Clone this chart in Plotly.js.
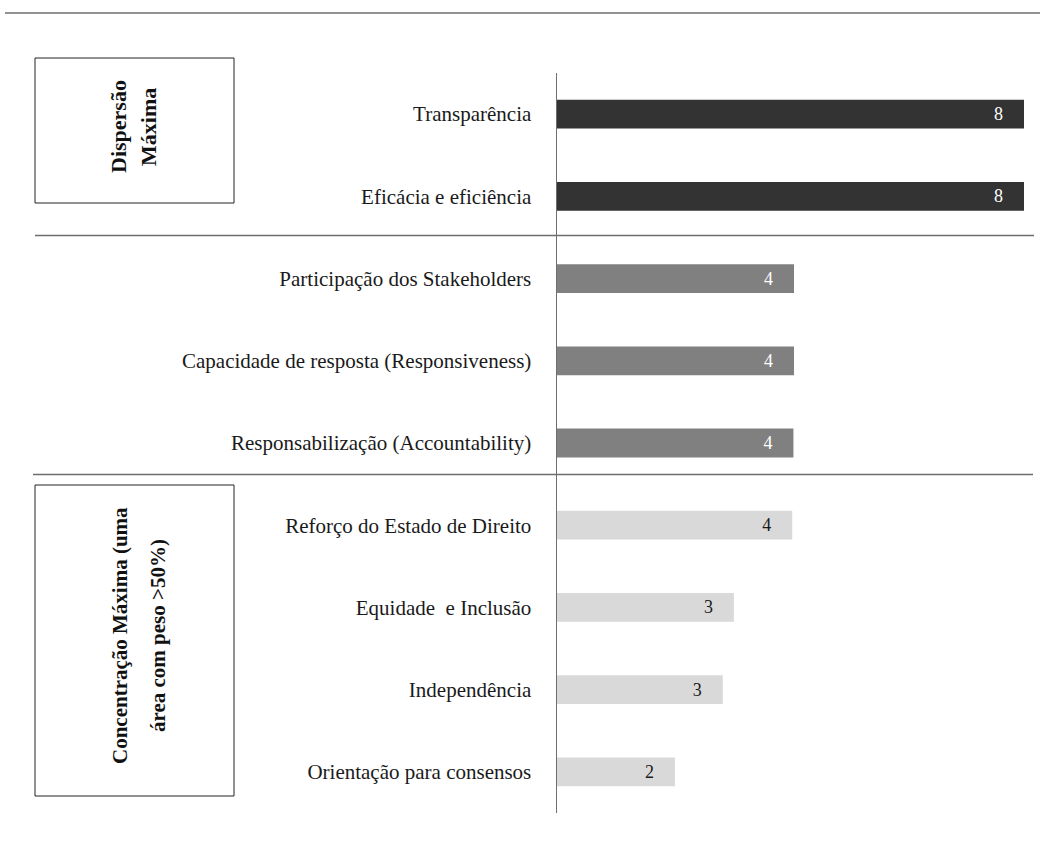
<!DOCTYPE html>
<html>
<head>
<meta charset="utf-8">
<script src="https://cdn.plot.ly/plotly-3.0.1.min.js"></script>
<style>html,body{margin:0;padding:0;background:#fff;}#chart{width:1040px;height:859px;}</style>
</head>
<body>
<div id="chart"></div>
<script>
const categories = [
  "Transparência",
  "Eficácia e eficiência",
  "Participação dos Stakeholders",
  "Capacidade de resposta (Responsiveness)",
  "Responsabilização (Accountability)",
  "Reforço do Estado de Direito",
  "Equidade  e Inclusão",
  "Independência",
  "Orientação para consensos"
];
const values = [8, 8, 4.06, 4.06, 4.05, 4.03, 3.03, 2.84, 2.02];
const valueLabels = ["8", "8", "4", "4", "4", "4", "3", "3", "2"];
const groupColors = ["#333333", "#333333", "#808080", "#808080", "#808080", "#d9d9d9", "#d9d9d9", "#d9d9d9", "#d9d9d9"];
const labelColors = ["#ffffff", "#ffffff", "#ffffff", "#ffffff", "#ffffff", "#1a1a1a", "#1a1a1a", "#1a1a1a", "#1a1a1a"];
const groupTitles = [["Dispersão", "Máxima"], ["Concentração Máxima (uma", "área com peso >50%)"]];

const pad = "\u00a0\u00a0\u00a0\u00a0";
const serif = "Liberation Serif, Times New Roman, serif";
const trace = {
  type: "bar",
  orientation: "h",
  y: categories,
  x: values,
  text: valueLabels.map(t => t + pad),
  textposition: "inside",
  insidetextanchor: "end",
  textfont: {family: serif, size: 18, color: labelColors},
  marker: {color: groupColors},
  width: 0.35,
  hoverinfo: "skip",
  cliponaxis: false
};

const gray = "#6e6e6e";
const PL = 557, PR = 1024, PT = 73, PB = 813;
const px = x => (x - PL) / (PR - PL);
const py = y => (PB - y) / (PB - PT);

const shapes = [
  {type: "line", xref: "paper", yref: "paper", x0: px(5), x1: px(1040), y0: py(13), y1: py(13), line: {color: gray, width: 1.5}},
  {type: "line", xref: "paper", yref: "paper", x0: px(35), x1: px(1034), y0: py(235.5), y1: py(235.5), line: {color: gray, width: 1.5}},
  {type: "line", xref: "paper", yref: "paper", x0: px(33), x1: px(1033), y0: py(474.5), y1: py(474.5), line: {color: gray, width: 1.5}},
  {type: "rect", xref: "paper", yref: "paper", x0: px(35), x1: px(234), y0: py(58), y1: py(203), line: {color: "#222", width: 1}},
  {type: "rect", xref: "paper", yref: "paper", x0: px(35), x1: px(234), y0: py(485), y1: py(796), line: {color: "#222", width: 1}}
];

const boldFont1 = {family: serif, size: 22, color: "#111"};
const boldFont2 = {family: serif, size: 21, color: "#111"};
const annotations = [
  {xref: "paper", yref: "paper", x: px(118), y: py(127), text: "<b>" + groupTitles[0][0] + "</b>", textangle: -90, showarrow: false, font: boldFont1, xanchor: "center", yanchor: "middle"},
  {xref: "paper", yref: "paper", x: px(148), y: py(127), text: "<b>" + groupTitles[0][1] + "</b>", textangle: -90, showarrow: false, font: boldFont1, xanchor: "center", yanchor: "middle"},
  {xref: "paper", yref: "paper", x: px(120), y: py(636), text: "<b>" + groupTitles[1][0] + "</b>", textangle: -90, showarrow: false, font: boldFont2, xanchor: "center", yanchor: "middle"},
  {xref: "paper", yref: "paper", x: px(158), y: py(636), text: "<b>" + groupTitles[1][1] + "</b>", textangle: -90, showarrow: false, font: boldFont2, xanchor: "center", yanchor: "middle"}
];

const layout = {
  width: 1040,
  height: 859,
  margin: {l: PL, r: 1040 - PR, t: PT, b: 859 - PB, pad: 0},
  paper_bgcolor: "#ffffff",
  plot_bgcolor: "#ffffff",
  showlegend: false,
  xaxis: {range: [0, 8], visible: false, fixedrange: true},
  yaxis: {
    type: "category",
    range: [8.5, -0.5],
    showline: true,
    linecolor: gray,
    linewidth: 1.5,
    showgrid: false,
    zeroline: false,
    ticks: "",
    ticklabelstandoff: 20,
    tickfont: {family: serif, size: 21, color: "#1a1a1a"},
    fixedrange: true
  },
  shapes: shapes,
  annotations: annotations
};

Plotly.newPlot("chart", [trace], layout, {displayModeBar: false, staticPlot: true});
</script>
</body>
</html>
